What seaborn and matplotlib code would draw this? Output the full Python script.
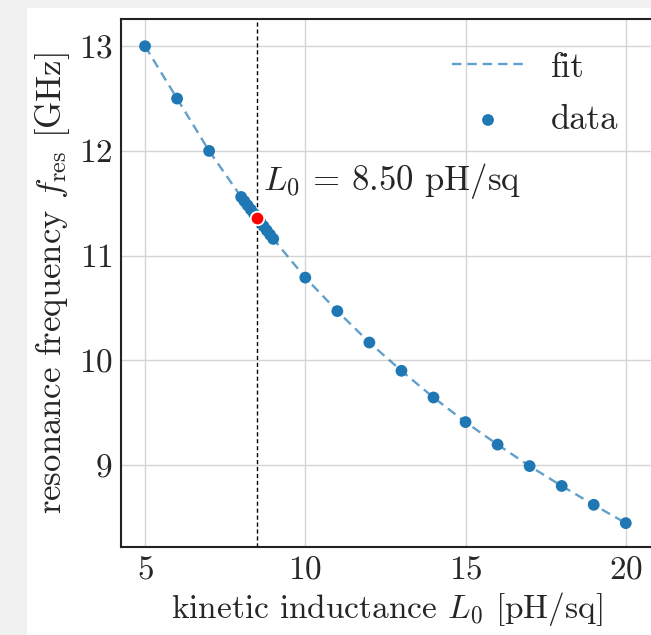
import matplotlib
matplotlib.use("Agg")
import matplotlib.pyplot as plt
import seaborn as sns
import pandas as pd
from matplotlib.patches import Rectangle

# data
L0_data = [5, 6, 7, 8.0, 8.1, 8.2, 8.3, 8.4, 8.5, 8.6, 8.7, 8.8, 8.9, 9.0,
           10, 11, 12, 13, 14, 15, 16, 17, 18, 19, 20]
f_data = [13.00, 12.50, 12.00, 11.56, 11.52, 11.48, 11.44, 11.40, 11.36, 11.32,
          11.28, 11.24, 11.20, 11.16, 10.79, 10.47, 10.17, 9.90, 9.645, 9.41,
          9.195, 8.99, 8.80, 8.62, 8.445]
L0_sel = [8.50]
f_sel = [11.36]
x_ticks = [5, 10, 15, 20]
y_ticks = [9, 10, 11, 12, 13]

sns.set_theme(style="whitegrid")
plt.rcParams["font.family"] = "serif"
plt.rcParams["font.serif"] = ["cmr10", "DejaVu Serif"]
plt.rcParams["mathtext.fontset"] = "cm"
plt.rcParams["axes.formatter.use_mathtext"] = True
plt.rcParams["axes.unicode_minus"] = False

df = pd.DataFrame({"L0": L0_data, "f": f_data})
sel = pd.DataFrame({"L0": L0_sel, "f": f_sel})

FS = 24

fig = plt.figure(figsize=(6.51, 6.35), dpi=100, facecolor="#f1f1f1")
fig.patches.append(Rectangle((27 / 651, 0), 1, 1 - 8 / 635, transform=fig.transFigure,
                             facecolor="white", edgecolor="none", zorder=-10))
ax = fig.add_axes([121 / 651, 1 - 547 / 635, (653 - 121) / 651, (547 - 19) / 635])

sns.lineplot(data=df, x="L0", y="f", ax=ax, color="#1f77b4", alpha=0.7,
             linestyle=(0, (4, 2.5)), linewidth=1.7, label="fit", zorder=2)
sns.scatterplot(data=df, x="L0", y="f", ax=ax, color="#1f77b4", s=72,
                edgecolor="none", label="data", zorder=3)
sns.scatterplot(data=sel, x="L0", y="f", ax=ax, color="red", s=95,
                edgecolor="white", linewidth=1.3, zorder=4, legend=False)
ax.axvline(L0_sel[0], color="black", linestyle=(0, (3, 2)), linewidth=1.0, zorder=1)
ax.text(8.69, 11.71, r"$L_0$ = 8.50 pH/sq", fontsize=FS + 1, va="center", ha="left")

ax.set_xticks(x_ticks)
ax.set_yticks(y_ticks)
ax.set_xlim(4.25, 4.25 + (653 - 121) / 32.05)
ax.set_ylim(8.217, 13.26)
ax.tick_params(labelsize=FS, length=0, pad=6)
ax.set_xlabel(r"kinetic inductance $L_0$ [pH/sq]", fontsize=FS, labelpad=4)
ax.set_ylabel(r"resonance frequency $f_\mathrm{res}$ [GHz]", fontsize=FS + 1, labelpad=5)
ax.grid(True, color="#d4d4d4", linewidth=1.0)
for s in ax.spines.values():
    s.set_color("#222222")
    s.set_linewidth(1.5)
ax.spines["right"].set_visible(False)

leg = ax.legend(loc="upper right", frameon=False, fontsize=FS + 1, handlelength=2.1,
                handletextpad=0.75, borderaxespad=0.55, labelspacing=0.6,
                bbox_to_anchor=((651 - 121) / (653 - 121), 1.0))

fig.savefig("out.png", dpi=100, facecolor=fig.get_facecolor())
